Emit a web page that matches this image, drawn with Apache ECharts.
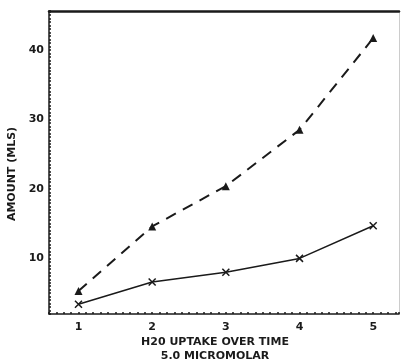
<!DOCTYPE html>
<html>
<head>
<meta charset="utf-8">
<script src="https://cdn.jsdelivr.net/npm/echarts@6/dist/echarts.min.js"></script>
<style>
html,body{margin:0;padding:0;background:#fff;}
#chart{width:401px;height:364px;}
</style>
</head>
<body>
<div id="chart"></div>
<script>
// uptake readings
var times = [1, 2, 3, 4, 5];
var dashedVals = [5.3, 14.6, 20.4, 28.5, 41.7];
var solidVals = [3.4, 6.6, 8.0, 10.0, 14.7];
var yTicks = [10, 20, 30, 40];
var xTicks = [1, 2, 3, 4, 5];

var ink = '#1a1a1a';
var font = '"DejaVu Sans", sans-serif';

function pairs(xs, ys){
	var out = [];
	for(var i=0;i<xs.length;i++){ out.push([xs[i], ys[i]]); }
	return out;
}
function isTick(list, v){
	for(var i=0;i<list.length;i++){ if(Math.abs(list[i]-v)<1e-6) return true; }
	return false;
}

var chart = echarts.init(document.getElementById('chart'));
var option = {
	backgroundColor:'#fff',
	animation:false,
	grid:{left:49, right:2, top:11, bottom:50, containLabel:false, outerBoundsMode:'none'},
	xAxis:[{
		type:'value', min:0.6, max:5.35, interval:0.1,
		name:'H20 UPTAKE OVER TIME\n5.0 MICROMOLAR',
		nameLocation:'middle', nameGap:21, nameMoveOverlap:false,
		nameTextStyle:{color:ink, fontFamily:font, fontWeight:'bold', fontSize:11, lineHeight:14, padding:[0,18,0,0]},
		axisLine:{lineStyle:{color:ink, width:1.5}},
		axisTick:{show:true, inside:true, length:2, lineStyle:{color:ink, width:1.5}},
		axisLabel:{color:ink, fontFamily:font, fontWeight:'bold', fontSize:11, margin:8,
			formatter:function(v){ return isTick(xTicks, v) ? String(Math.round(v)) : ''; }},
		splitLine:{show:false}
	},{
		type:'value', position:'top', min:0.6, max:5.35,
		axisLine:{show:true, lineStyle:{color:ink, width:2.5}},
		axisTick:{show:false}, axisLabel:{show:false}, splitLine:{show:false}
	}],
	yAxis:[{
		type:'value', min:2, max:45.6, interval:0.5,
		name:'AMOUNT (MLS)', nameLocation:'middle', nameGap:30, nameRotate:90,
		nameTextStyle:{color:ink, fontFamily:font, fontWeight:'bold', fontSize:11, padding:[0,23,0,0]},
		axisLine:{lineStyle:{color:ink, width:1.5}},
		axisTick:{show:true, inside:true, length:2, lineStyle:{color:ink, width:1.5}},
		axisLabel:{color:ink, fontFamily:font, fontWeight:'bold', fontSize:11, margin:5,
			formatter:function(v){ return isTick(yTicks, v) ? String(Math.round(v)) : ''; }},
		splitLine:{show:false}
	},{
		type:'value', position:'right', min:2, max:45.6,
		axisLine:{show:true, lineStyle:{color:'#ccc', width:1}},
		axisTick:{show:false}, axisLabel:{show:false}, splitLine:{show:false}
	}],
	series:[{
		type:'line', data:pairs(times, dashedVals),
		symbol:'triangle', symbolSize:8,
		itemStyle:{color:ink},
		lineStyle:{color:ink, width:2, type:[11,8]}
	},{
		type:'line', data:pairs(times, solidVals),
		symbol:'path://M0,0L10,10M10,0L0,10', symbolSize:7,
		itemStyle:{color:ink, borderColor:ink, borderWidth:1.5},
		lineStyle:{color:ink, width:1.5}
	}]
};
chart.setOption(option);
</script>
</body>
</html>
